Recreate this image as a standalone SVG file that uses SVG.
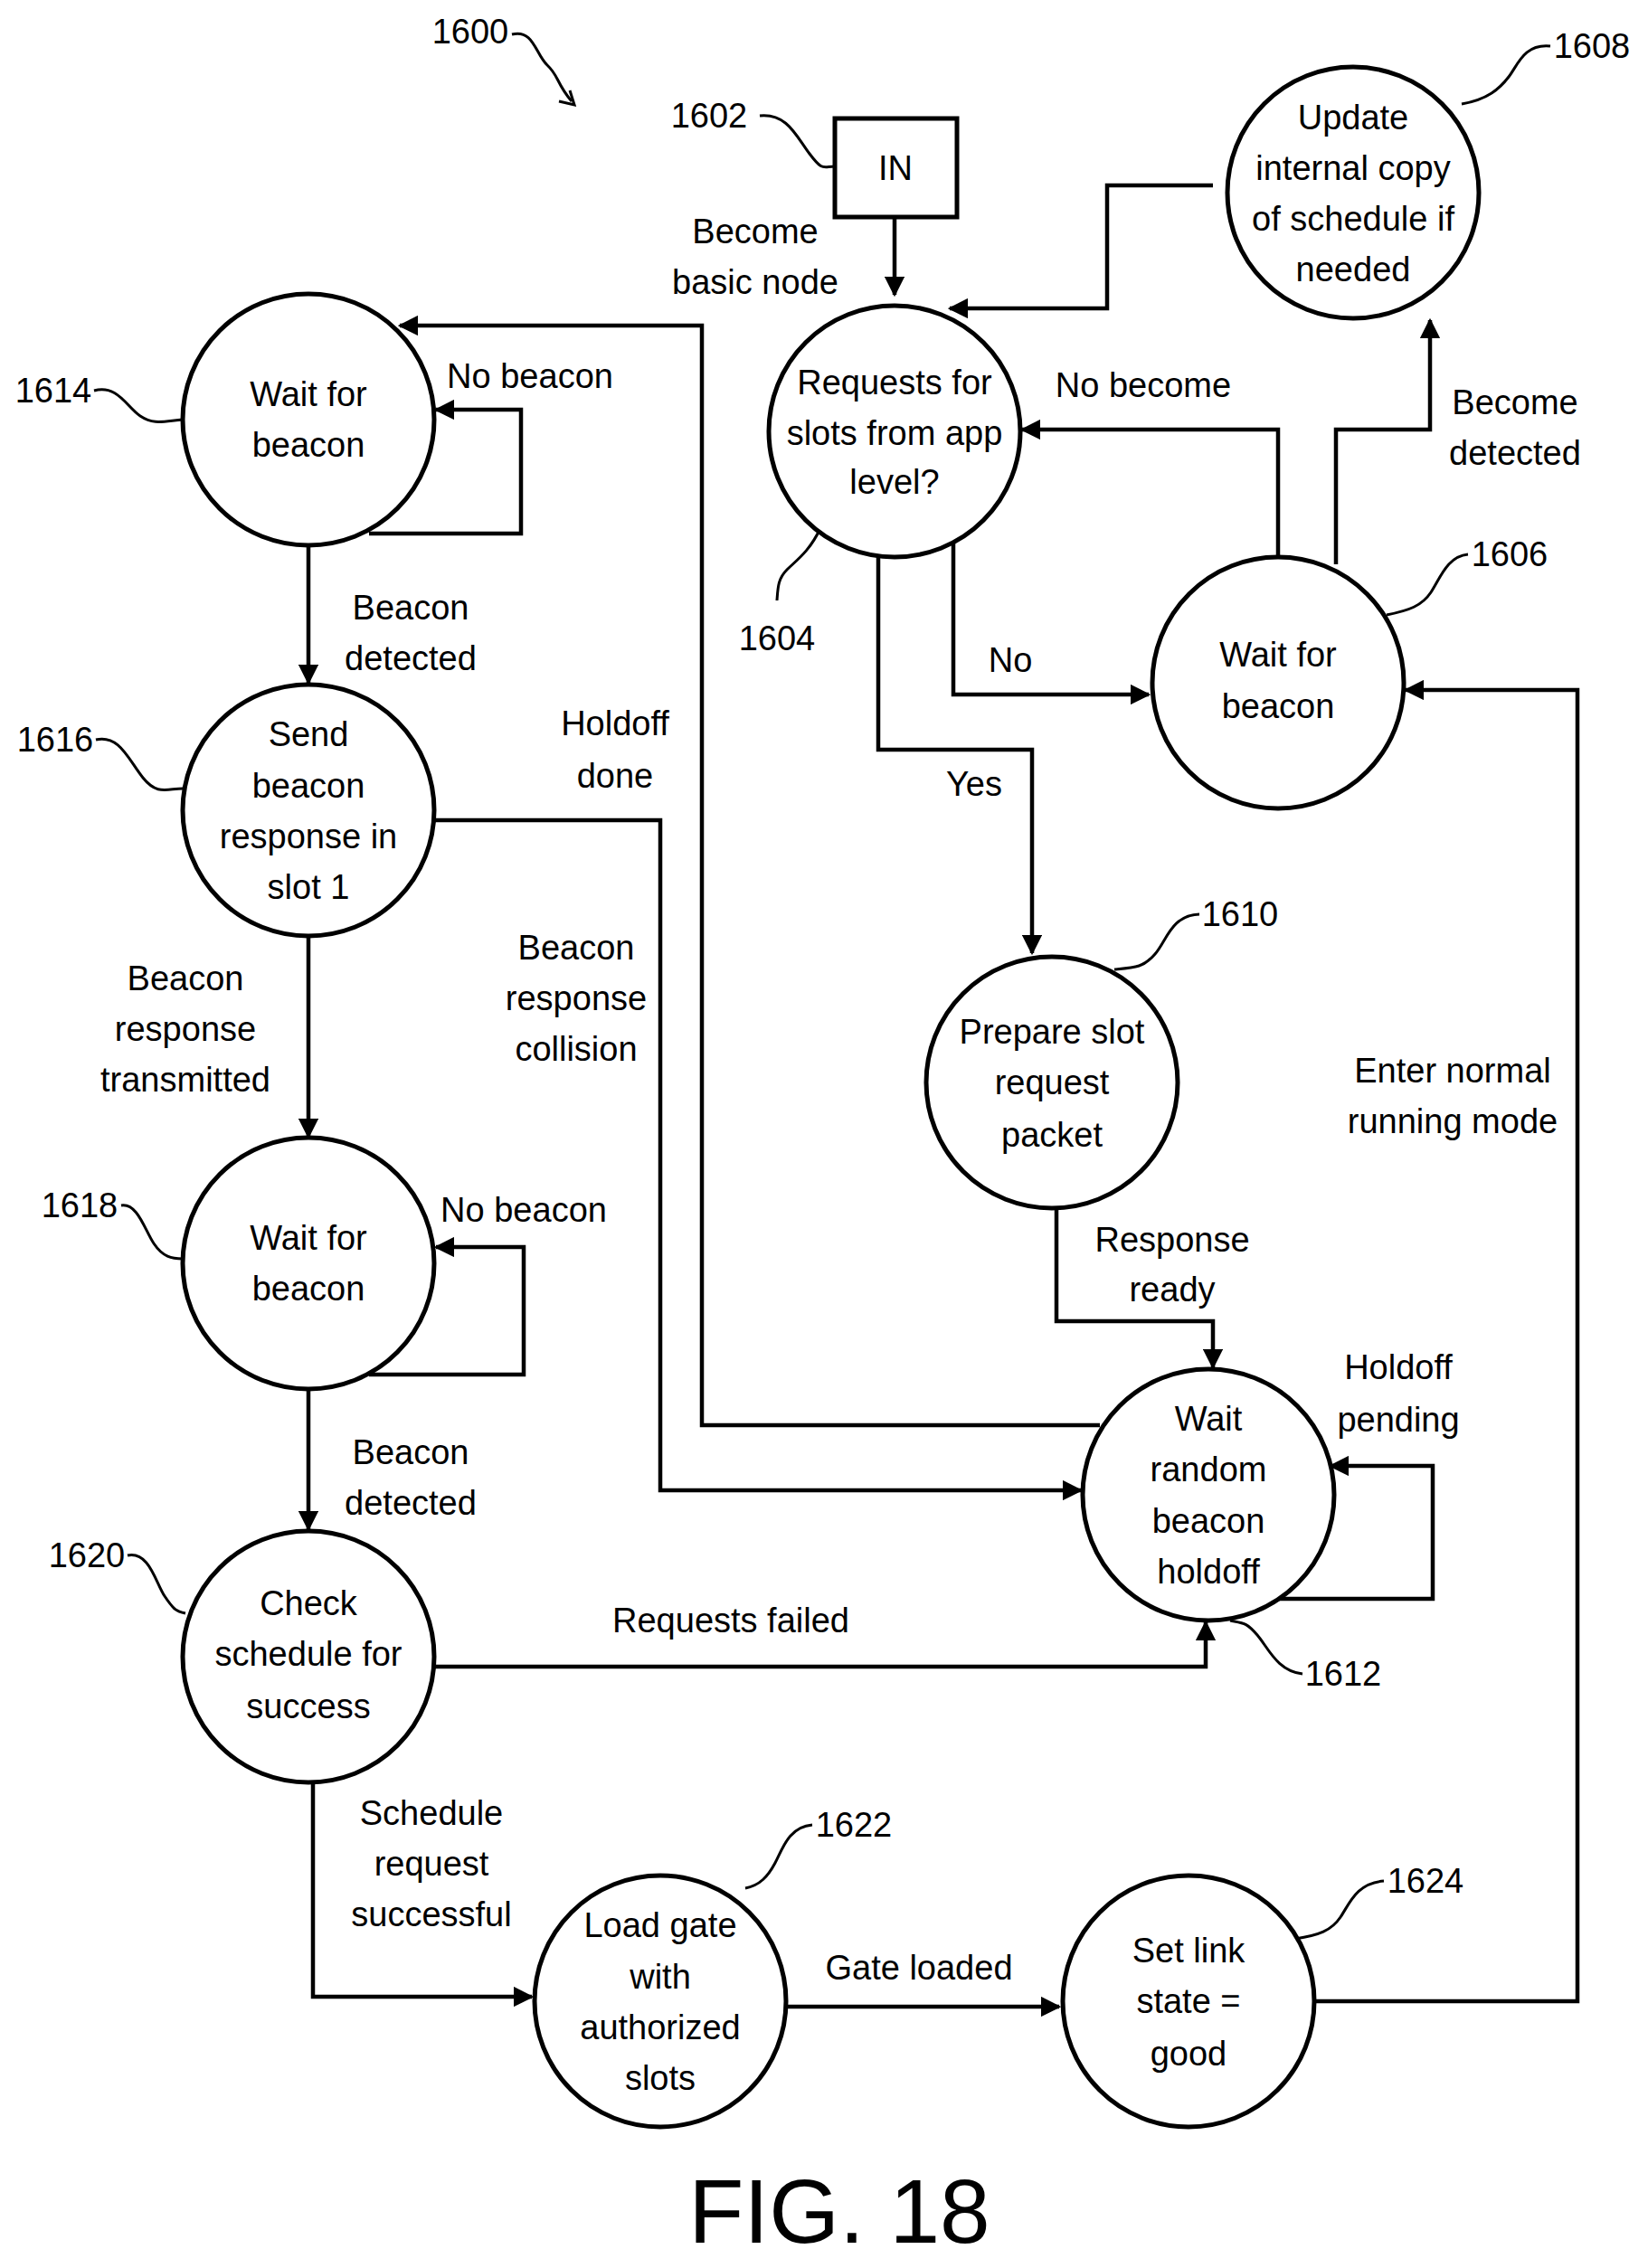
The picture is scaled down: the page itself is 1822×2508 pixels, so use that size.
<svg xmlns="http://www.w3.org/2000/svg" width="1822" height="2508" viewBox="0 0 1822 2508">
<style>
text{font-family:"Liberation Sans",Arial,sans-serif;font-size:38px;fill:#000;text-anchor:middle}
.n circle,.n rect{fill:#fff;stroke:#000;stroke-width:5}
.c path{fill:none;stroke:#000;stroke-width:4.5}
.l path{fill:none;stroke:#000;stroke-width:3}
.fig{font-size:100px}
</style>
<defs><marker id="a" viewBox="0 0 10 10" refX="9" refY="5" markerWidth="5" markerHeight="5" orient="auto" markerUnits="strokeWidth"><path d="M0,0L10,5L0,10z" fill="#000"/></marker></defs>
<g class="c" marker-end="url(#a)">
<path d="M989,240V326"/>
<path d="M408,590H576V453H482"/>
<path d="M341,603V755"/>
<path d="M341,1035V1257"/>
<path d="M408,1520H579V1379H482"/>
<path d="M341,1536V1691"/>
<path d="M480,1843H1333V1794"/>
<path d="M346,1971V2208H588"/>
<path d="M869,2219H1171"/>
<path d="M1453,2213H1744V763H1554"/>
<path d="M971,608V829H1141V1054"/>
<path d="M1054,595V768H1270"/>
<path d="M1413,616V475H1130"/>
<path d="M1477,624V475H1581V354"/>
<path d="M1341,205H1224V341H1050"/>
<path d="M1168,1336V1461H1341V1512"/>
<path d="M1413,1768H1584V1621H1471"/>
<path d="M1216,1576H776V360H442"/>
<path d="M480,907H730V1648H1195"/>
</g>
<g class="l">
<path d="M566,38C590,32 592,60 605,72S615,92 632,112"/>
<path d="M630,100L635,116L618,112" fill="#000"/>
<path d="M840,128C870,125 880,150 895,170S910,184 923,184"/>
<path d="M1714,51C1685,48 1678,72 1668,85S1645,110 1616,115"/>
<path d="M1623,613C1600,615 1592,640 1582,655S1558,675 1533,680"/>
<path d="M907,584C895,610 880,620 870,630S860,650 859,664"/>
<path d="M1326,1011C1295,1012 1290,1040 1277,1055S1255,1070 1232,1072"/>
<path d="M1440,1851C1412,1848 1402,1822 1390,1808S1375,1795 1360,1792"/>
<path d="M104,432C130,425 140,450 155,460S180,466 202,464"/>
<path d="M106,818C132,812 142,840 158,860S185,872 202,872"/>
<path d="M134,1333C152,1330 160,1360 170,1375S190,1392 202,1392"/>
<path d="M141,1720C165,1715 172,1750 182,1765S195,1782 205,1784"/>
<path d="M898,2018C872,2020 865,2045 857,2060S840,2085 824,2088"/>
<path d="M1530,2080C1500,2082 1492,2105 1482,2120S1458,2140 1432,2144"/>
</g>
<g id="in" class="n"><rect x="923" y="131" width="135" height="109"/><text x="990" y="199">IN</text></g>
<g id="n1614" class="n"><circle cx="341" cy="464" r="139"/><text x="341" y="449">Wait for</text><text x="341" y="505">beacon</text></g>
<g id="n1616" class="n"><circle cx="341" cy="896" r="139"/><text x="341" y="825">Send</text><text x="341" y="882">beacon</text><text x="341" y="938">response in</text><text x="341" y="994">slot 1</text></g>
<g id="n1618" class="n"><circle cx="341" cy="1397" r="139"/><text x="341" y="1382">Wait for</text><text x="341" y="1438">beacon</text></g>
<g id="n1620" class="n"><circle cx="341" cy="1832" r="139"/><text x="341" y="1786">Check</text><text x="341" y="1842">schedule for</text><text x="341" y="1900">success</text></g>
<g id="n1604" class="n"><circle cx="989" cy="477" r="139"/><text x="989" y="436">Requests for</text><text x="989" y="492">slots from app</text><text x="989" y="546">level?</text></g>
<g id="n1608" class="n"><circle cx="1496" cy="213" r="139"/><text x="1496" y="143">Update</text><text x="1496" y="199">internal copy</text><text x="1496" y="255">of schedule if</text><text x="1496" y="311">needed</text></g>
<g id="n1606" class="n"><circle cx="1413" cy="755" r="139"/><text x="1413" y="737">Wait for</text><text x="1413" y="794">beacon</text></g>
<g id="n1610" class="n"><circle cx="1163" cy="1197" r="139"/><text x="1163" y="1154">Prepare slot</text><text x="1163" y="1210">request</text><text x="1163" y="1268">packet</text></g>
<g id="n1612" class="n"><circle cx="1336" cy="1653" r="139"/><text x="1336" y="1582">Wait</text><text x="1336" y="1638">random</text><text x="1336" y="1695">beacon</text><text x="1336" y="1751">holdoff</text></g>
<g id="n1622" class="n"><circle cx="730" cy="2213" r="139"/><text x="730" y="2142">Load gate</text><text x="730" y="2199">with</text><text x="730" y="2255">authorized</text><text x="730" y="2311">slots</text></g>
<g id="n1624" class="n"><circle cx="1314" cy="2213" r="139"/><text x="1314" y="2170">Set link</text><text x="1314" y="2226">state =</text><text x="1314" y="2284">good</text></g>
<g id="labels">
<text x="520" y="48">1600</text>
<text x="784" y="141">1602</text>
<text x="835" y="269">Become</text><text x="835" y="325">basic node</text>
<text x="1760" y="64">1608</text>
<text x="1264" y="439">No become</text>
<text x="1675" y="458">Become</text><text x="1675" y="514">detected</text>
<text x="1669" y="626">1606</text>
<text x="859" y="719">1604</text>
<text x="1117" y="743">No</text>
<text x="1077" y="880">Yes</text>
<text x="1371" y="1024">1610</text>
<text x="1606" y="1197">Enter normal</text><text x="1606" y="1253">running mode</text>
<text x="1296" y="1384">Response</text><text x="1296" y="1439">ready</text>
<text x="1546" y="1525">Holdoff</text><text x="1546" y="1583">pending</text>
<text x="1485" y="1864">1612</text>
<text x="808" y="1805">Requests failed</text>
<text x="59" y="445">1614</text>
<text x="586" y="429">No beacon</text>
<text x="454" y="685">Beacon</text><text x="454" y="741">detected</text>
<text x="61" y="831">1616</text>
<text x="680" y="813">Holdoff</text><text x="680" y="871">done</text>
<text x="637" y="1061">Beacon</text><text x="637" y="1117">response</text><text x="637" y="1173">collision</text>
<text x="205" y="1095">Beacon</text><text x="205" y="1151">response</text><text x="205" y="1207">transmitted</text>
<text x="88" y="1346">1618</text>
<text x="579" y="1351">No beacon</text>
<text x="454" y="1619">Beacon</text><text x="454" y="1675">detected</text>
<text x="96" y="1733">1620</text>
<text x="477" y="2018">Schedule</text><text x="477" y="2074">request</text><text x="477" y="2130">successful</text>
<text x="944" y="2031">1622</text>
<text x="1016" y="2189">Gate loaded</text>
<text x="1576" y="2093">1624</text>
<text class="fig" x="928" y="2480">FIG. 18</text>
</g>
</svg>
